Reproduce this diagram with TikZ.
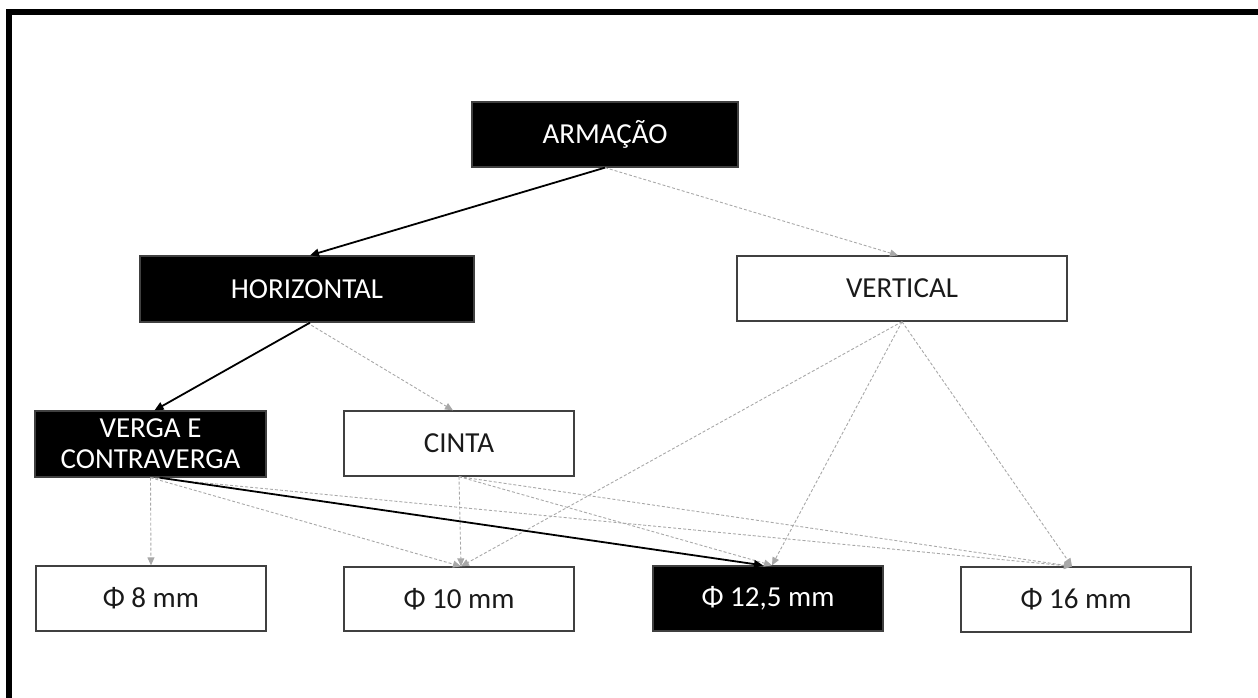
\documentclass[tikz,border=0pt]{standalone}
\usepackage{fontspec}
\setmainfont{Carlito}
\usetikzlibrary{arrows.meta}
\definecolor{boxline}{HTML}{404040}
\definecolor{dashgray}{HTML}{A8A8A8}
\definecolor{txt}{HTML}{1A1A1A}
\begin{document}
\begin{tikzpicture}[x=1pt,y=-1pt,
  basebox/.style={rectangle, inner sep=0pt, align=center, line width=1.3pt, draw=boxline,
    font=\fontsize{29}{31}\selectfont},
  darkbox/.style={basebox, fill=black, text=white},
  lightbox/.style={basebox, fill=white, text=txt},
  solidarrow/.style={line width=1.8pt, black, -{Triangle[length=9pt,width=8pt]}},
  grayarrow/.style={line width=0.9pt, dashgray, dash pattern=on 3pt off 2pt, -{Triangle[length=8pt,width=7pt]}}
]
\useasboundingbox (0,0) rectangle (1258,698);
\fill[black] (6,9) rectangle (1258,15);
\fill[black] (6,9) rectangle (12,698);

\node[darkbox, minimum width=266pt, minimum height=65pt] (arm) at (605,134.5) {ARMAÇÃO};
\node[darkbox, minimum width=334pt, minimum height=66pt] (hor) at (307,289) {HORIZONTAL};
\node[lightbox, minimum width=330pt, minimum height=65pt] (vert) at (902,288.5) {VERTICAL};
\node[darkbox, minimum width=231pt, minimum height=66pt] (verga) at (150.5,444) {VERGA E\\CONTRAVERGA};
\node[lightbox, minimum width=230pt, minimum height=65pt] (cinta) at (459,443.5) {CINTA};
\node[lightbox, minimum width=230pt, minimum height=65pt] (p8) at (151,598.5) {Φ 8 mm};
\node[lightbox, minimum width=230pt, minimum height=64pt] (p10) at (459,599) {Φ 10 mm};
\node[darkbox, minimum width=230pt, minimum height=65pt] (p125) at (768,598.5) {Φ 12,5 mm};
\node[lightbox, minimum width=230pt, minimum height=65pt] (p16) at (1076,599.5) {Φ 16 mm};

% gray dashed connectors
\draw[grayarrow] (arm.south) -- ([xshift=-4pt]vert.north);
\draw[grayarrow] (hor.south) -- ([xshift=-6pt]cinta.north);
\draw[grayarrow] (verga.south) -- (p8.north);
\draw[grayarrow] (verga.south) -- ([xshift=2pt]p10.north);
\draw[grayarrow] (verga.south) -- ([xshift=-4pt]p16.north);
\draw[grayarrow] (cinta.south) -- ([xshift=2pt]p10.north);
\draw[grayarrow] (cinta.south) -- ([xshift=4pt]p125.north);
\draw[grayarrow] (cinta.south) -- ([xshift=-4pt]p16.north);
\draw[grayarrow] (vert.south) -- ([xshift=2pt]p10.north);
\draw[grayarrow] (vert.south) -- ([xshift=4pt]p125.north);
\draw[grayarrow] (vert.south) -- ([xshift=-4pt]p16.north);

% solid black connectors
\draw[solidarrow] (arm.south) -- ([xshift=3pt]hor.north);
\draw[solidarrow] ([xshift=3pt]hor.south) -- ([xshift=4pt]verga.north);
\draw[solidarrow] ([xshift=9pt]verga.south) -- ([xshift=-5pt]p125.north);
\end{tikzpicture}
\end{document}
